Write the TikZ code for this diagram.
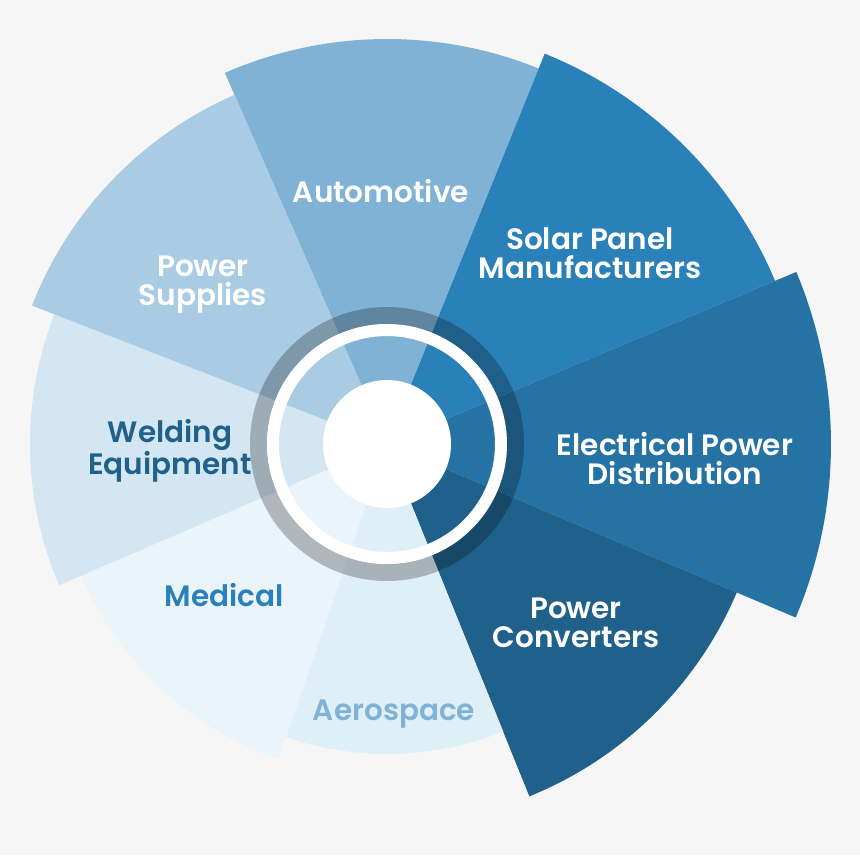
\documentclass[tikz,border=0pt]{standalone}
\usepackage{fontspec}
\setmainfont{Poppins}[BoldFont={Poppins SemiBold}]
\usepackage{xcolor}
\usetikzlibrary{positioning}

\definecolor{bgcol}{HTML}{F6F6F6}
\definecolor{autocol}{HTML}{7FB2D5}
\definecolor{solarcol}{HTML}{2A80B9}
\definecolor{eleccol}{HTML}{2572A4}
\definecolor{convcol}{HTML}{1F618B}
\definecolor{aerocol}{HTML}{DFEFF8}
\definecolor{medcol}{HTML}{EAF4FB}
\definecolor{weldcol}{HTML}{D3E6F2}
\definecolor{supplycol}{HTML}{A9CCE4}

\begin{document}
\begin{tikzpicture}[x=1pt, y=1pt, align=center]
    % Define styles
    \tikzstyle{sectortext} = [font=\bfseries\fontsize{29.5}{29}\selectfont, inner sep=0pt]
    \tikzstyle{whitetext} = [sectortext, text=white]
    \tikzstyle{ring} = [circle, inner sep=0pt, fill=none]

    % Background
    \fill[bgcol] (-387,-411) rectangle (473,444);

    % Sectors (start angle / end angle / radius / colour)
    \foreach \s/\e/\r/\c in {68/113.6/405/autocol, 22.8/68/421/solarcol, -23/22.8/444/eleccol,
                             -68/-23/380/convcol, -109/-68/310/aerocol, -156.7/-109/333/medcol,
                             158.7/203.3/357/weldcol, 113.6/158.7/381/supplycol} {
        \fill[\c] (0,0) -- (\s:\r) arc[start angle=\s, end angle=\e, radius=\r] -- cycle;
    }

    % Hub
    \node (outerring) [ring, draw=black, draw opacity=0.25, line width=17pt, minimum size=257pt] at (0,0) {};
    \node (innerring) [ring, draw=white, line width=12pt, minimum size=228pt] at (0,0) {};
    \node (hub) [circle, fill=white, inner sep=0pt, minimum size=128pt] at (0,0) {};

    % Nodes
    \node (auto) [whitetext] at (-6,253) {Automotive};
    \node (solar) [whitetext] at (203,191) {Solar Panel\\Manufacturers};
    \node (elec) [whitetext] at (288,-15) {Electrical Power\\Distribution};
    \node (conv) [whitetext] at (189,-179) {Power\\Converters};
    \node (aero) [sectortext, text=autocol] at (7,-270) {Aerospace};
    \node (med) [sectortext, text=solarcol] at (-163,-151) {Medical};
    \node (weld) [sectortext, text=convcol] at (-217,-7) {Welding\\Equipment};
    \node (supply) [whitetext] at (-184,159) {Power\\Supplies};
\end{tikzpicture}
\end{document}
